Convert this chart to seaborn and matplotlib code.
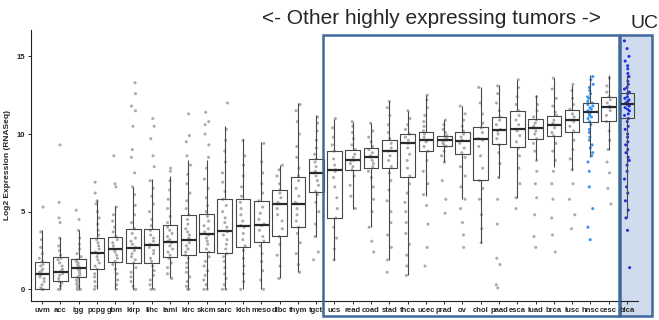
import numpy as np
import pandas as pd
import seaborn as sns
import matplotlib.pyplot as plt
from matplotlib.patches import Rectangle

# tumour types, ordered by median expression
cancers = ["uvm", "acc", "lgg", "pcpg", "gbm", "kirp", "lihc", "laml", "kirc", "skcm",
           "sarc", "kich", "meso", "dlbc", "thym", "tgct", "ucs", "read", "coad", "stad",
           "thca", "ucec", "prad", "ov", "chol", "paad", "esca", "luad", "brca", "lusc",
           "hnsc", "cesc", "blca"]

# box stats (whisker low, q1, median, q3, whisker high)
whisk_lo = [0, 0, 0, 0, 0, 0, 0, 0.7, 0, 0, 0, 0, 0, 0.7, 1.1, 3.4, 1.9, 5.2, 4.0, 1.9,
            0.9, 6.0, 8.2, 5.8, 3.0, 7.2, 5.9, 8.3, 7.9, 7.7, 8.5, 9.0, 4.6]
q1 = [0, 0.53, 0.79, 1.29, 1.74, 1.67, 1.69, 2.1, 2.23, 2.42, 2.32, 2.75, 3.07, 3.41, 3.99, 6.27,
      4.57, 7.66, 7.79, 7.81, 7.21, 8.89, 9.2, 8.73, 7.02, 9.34, 9.14, 9.7, 9.89, 10.15,
      10.75, 10.84, 11.05]
median = [0.98, 1.13, 1.35, 2.36, 2.57, 2.68, 2.87, 3.07, 3.2, 3.54, 3.73, 4.1, 4.16, 5.49, 5.49, 7.49,
          7.68, 8.3, 8.5, 8.9, 9.4, 9.6, 9.59, 9.57, 9.66, 10.24, 10.32, 10.4, 10.58, 10.88,
          11.42, 11.74, 11.95]
q3 = [1.74, 2.06, 1.95, 3.28, 3.35, 3.88, 3.86, 4.16, 4.76, 4.83, 5.8, 5.8, 5.7, 6.41, 7.23, 8.39,
      8.9, 8.97, 9.1, 9.59, 10.0, 10.15, 9.89, 10.15, 10.43, 11.1, 11.46, 10.95, 11.18, 11.55,
      12.0, 12.36, 12.66]
whisk_hi = [3.8, 3.4, 3.8, 5.75, 5.36, 6.6, 7.1, 7.3, 8.3, 8.3, 10.5, 9.7, 9.5, 8.0, 12.0, 11.2,
            11.0, 10.8, 10.7, 12.1, 11.5, 12.5, 10.9, 11.8, 13.05, 13.15, 13.5, 12.5, 13.6, 13.15,
            13.8, 13.8, 13.8]

# individual samples (approximate, read from the dot streaks)
points = {
    "uvm": [0, 0, 0.1, 0.3, 0.5, 0.7, 0.8, 0.9, 1.0, 1.0, 1.1, 1.2, 1.3, 1.5, 1.6, 1.8, 2.0, 2.3, 2.7, 3.2, 3.7, 5.3],
    "acc": [0, 0, 0.2, 0.4, 0.5, 0.7, 0.9, 1.0, 1.1, 1.2, 1.3, 1.5, 1.7, 1.9, 2.0, 2.2, 2.5, 2.8, 3.3, 4.3, 4.6, 5.6, 9.3],
    "lgg": [0, 0, 0, 0.1, 0.2, 0.3, 0.4, 0.5, 0.6, 0.7, 0.8, 0.9, 1.0, 1.1, 1.2, 1.3, 1.3, 1.4, 1.5, 1.6, 1.7, 1.8,
            1.9, 2.1, 2.3, 2.6, 2.9, 3.3, 3.8, 4.5, 5.1],
    "pcpg": [0, 0.2, 0.5, 0.8, 1.0, 1.3, 1.5, 1.7, 1.9, 2.1, 2.3, 2.4, 2.6, 2.8, 3.0, 3.2, 3.5, 3.8, 4.2, 4.6, 5.0,
             5.5, 5.7, 6.2, 6.9],
    "gbm": [0, 0.3, 0.6, 1.0, 1.3, 1.6, 1.8, 2.0, 2.2, 2.4, 2.5, 2.6, 2.8, 3.0, 3.2, 3.4, 3.7, 4.0, 4.4, 4.8, 5.3,
            6.6, 6.8, 8.6],
    "kirp": [0, 0, 0.2, 0.5, 0.8, 1.1, 1.4, 1.7, 1.9, 2.1, 2.3, 2.5, 2.7, 2.9, 3.1, 3.3, 3.6, 3.9, 4.3, 4.8, 5.4,
             6.1, 6.6, 7.5, 8.5, 9.0, 10.5, 11.5, 11.8, 12.6, 13.3],
    "lihc": [0, 0, 0.3, 0.6, 0.9, 1.2, 1.5, 1.8, 2.0, 2.3, 2.5, 2.7, 2.9, 3.1, 3.3, 3.5, 3.8, 4.1, 4.5, 5.0, 5.5,
             6.0, 6.5, 7.0, 7.9, 8.6, 9.7, 10.5, 11.0],
    "laml": [0.7, 1.0, 1.4, 1.7, 2.0, 2.2, 2.4, 2.6, 2.8, 3.0, 3.1, 3.2, 3.4, 3.6, 3.8, 4.0, 4.3, 4.7, 5.2, 5.8,
             6.4, 7.0, 7.6, 7.8],
    "kirc": [0, 0, 0.2, 0.5, 0.8, 1.1, 1.4, 1.7, 2.0, 2.2, 2.4, 2.6, 2.8, 3.0, 3.2, 3.3, 3.5, 3.7, 3.9, 4.2, 4.5,
             4.8, 5.2, 5.7, 6.2, 6.8, 7.4, 8.0, 8.6, 9.5, 9.9, 11.3],
    "skcm": [0, 0, 0.3, 0.6, 0.9, 1.2, 1.5, 1.8, 2.1, 2.4, 2.6, 2.9, 3.1, 3.3, 3.5, 3.7, 3.9, 4.1, 4.4, 4.7, 5.0,
             5.4, 5.9, 6.5, 7.1, 7.8, 8.5, 9.3, 10.0, 10.6, 10.8, 11.4],
    "sarc": [0, 0, 0.3, 0.7, 1.0, 1.4, 1.8, 2.1, 2.3, 2.6, 2.9, 3.2, 3.5, 3.7, 4.0, 4.3, 4.6, 5.0, 5.4, 5.8, 6.3,
             6.9, 7.5, 8.2, 8.9, 9.6, 10.3, 12.0],
    "kich": [0, 0.5, 1.0, 1.5, 2.0, 2.5, 2.8, 3.2, 3.6, 4.0, 4.1, 4.4, 4.8, 5.2, 5.6, 6.0, 6.6, 7.3, 8.0, 8.6, 9.6],
    "meso": [0, 0.6, 1.2, 1.8, 2.3, 2.8, 3.1, 3.4, 3.8, 4.1, 4.2, 4.5, 4.9, 5.3, 5.7, 6.2, 6.8, 7.5, 8.2, 9.4],
    "dlbc": [0.7, 1.5, 2.2, 2.9, 3.4, 3.9, 4.4, 4.8, 5.2, 5.5, 5.6, 5.9, 6.2, 6.4, 6.8, 7.3, 7.7, 8.0],
    "thym": [1.1, 1.6, 2.3, 3.0, 3.6, 4.0, 4.4, 4.8, 5.2, 5.5, 5.6, 6.0, 6.5, 7.0, 7.3, 7.8, 8.5, 9.2, 10.0, 10.8,
             11.5, 11.9],
    "tgct": [1.9, 2.4, 3.4, 4.2, 5.0, 5.6, 6.1, 6.3, 6.7, 7.0, 7.3, 7.5, 7.6, 7.9, 8.2, 8.4, 8.7, 9.1, 9.6, 10.2,
             10.7, 11.1],
    "ucs": [1.9, 2.6, 3.3, 4.0, 4.6, 5.2, 5.9, 6.6, 7.2, 7.6, 7.7, 8.0, 8.4, 8.9, 9.3, 9.8, 10.4, 11.0],
    "read": [5.2, 6.0, 6.7, 7.3, 7.7, 7.9, 8.1, 8.3, 8.3, 8.5, 8.7, 9.0, 9.3, 9.7, 10.1, 10.5, 10.8],
    "coad": [2.4, 3.1, 4.0, 5.0, 5.8, 6.6, 7.2, 7.6, 7.9, 8.1, 8.3, 8.5, 8.6, 8.8, 9.0, 9.2, 9.5, 9.8, 10.2, 10.7],
    "stad": [1.1, 1.9, 2.7, 3.5, 4.3, 5.0, 5.7, 6.4, 7.0, 7.5, 7.9, 8.3, 8.6, 8.9, 9.1, 9.4, 9.7, 10.1, 10.6,
             11.2, 11.7, 12.1],
    "thca": [0.9, 1.5, 2.2, 2.9, 3.6, 4.3, 5.0, 5.6, 6.2, 6.8, 7.3, 7.8, 8.3, 8.7, 9.1, 9.4, 9.6, 9.8, 10.0, 10.3,
             10.6, 11.0, 11.5],
    "ucec": [1.5, 2.7, 4.2, 5.4, 6.1, 6.8, 7.6, 8.3, 8.9, 9.2, 9.5, 9.6, 9.8, 10.0, 10.2, 10.5, 10.8, 11.2, 11.7,
             12.2, 12.5],
    "prad": [4.9, 5.8, 7.0, 8.2, 8.6, 8.9, 9.2, 9.3, 9.4, 9.5, 9.6, 9.6, 9.7, 9.8, 9.9, 10.1, 10.3, 10.6, 10.9],
    "ov": [2.7, 3.5, 4.3, 5.2, 5.8, 6.6, 7.3, 7.9, 8.5, 8.8, 9.1, 9.4, 9.6, 9.8, 10.0, 10.2, 10.5, 10.9, 11.3, 11.8],
    "chol": [3.0, 3.9, 4.8, 5.8, 6.5, 7.0, 7.8, 8.6, 9.2, 9.6, 9.7, 10.1, 10.4, 10.7, 11.3, 12.0, 13.0],
    "paad": [0.1, 0.3, 1.6, 2.0, 4.2, 5.8, 7.2, 8.1, 8.8, 9.3, 9.7, 10.0, 10.2, 10.3, 10.6, 10.9, 11.1, 11.5, 12.0,
             12.6, 13.1],
    "esca": [5.2, 5.9, 6.8, 7.8, 8.6, 9.1, 9.5, 9.9, 10.2, 10.3, 10.6, 10.9, 11.2, 11.5, 11.9, 12.4, 13.0, 13.5],
    "luad": [2.7, 3.4, 4.8, 5.9, 6.8, 7.6, 8.3, 8.9, 9.4, 9.7, 10.0, 10.2, 10.4, 10.5, 10.7, 10.9, 11.1, 11.5,
             11.9, 12.4],
    "brca": [2.4, 3.5, 4.6, 5.8, 6.8, 7.6, 8.3, 8.9, 9.4, 9.9, 10.1, 10.4, 10.6, 10.7, 10.9, 11.2, 11.4, 11.8,
             12.3, 12.9, 13.6],
    "lusc": [3.9, 4.8, 5.8, 6.8, 7.7, 8.4, 9.0, 9.6, 10.2, 10.5, 10.8, 10.9, 11.1, 11.3, 11.6, 11.9, 12.3, 12.8, 13.2],
    "hnsc": [3.2, 4.0, 5.2, 6.6, 7.6, 8.2, 8.6, 8.8, 9.1, 9.3, 9.6, 9.8, 10.1, 10.3, 10.6, 10.8, 11.0, 11.1, 11.2,
             11.3, 11.4, 11.5, 11.6, 11.7, 11.8, 11.9, 12.0, 12.1, 12.3, 12.4, 12.6, 12.8, 13.0, 13.2, 13.5, 13.7],
    "cesc": [5.5, 6.5, 7.5, 8.2, 9.0, 9.6, 10.2, 10.8, 11.2, 11.5, 11.7, 11.8, 12.0, 12.2, 12.4, 12.7, 13.1, 13.6],
    "blca": [1.4, 3.8, 4.6, 5.1, 5.7, 6.2, 6.6, 7.1, 7.6, 8.0, 8.3, 8.5, 8.8, 9.0, 9.3, 9.5, 9.8, 10.0, 10.3,
             10.5, 10.8, 11.0, 11.2, 11.3, 11.5, 11.6, 11.7, 11.8, 11.9, 12.0, 12.1, 12.2, 12.3, 12.4, 12.6,
             12.7, 12.9, 13.0, 13.2, 13.4, 13.7, 13.9, 14.2, 14.4, 14.7, 15.0, 15.5, 16.0],
}

box_df = pd.DataFrame({
    "cancer": np.repeat(cancers, 5),
    "expr": np.column_stack([whisk_lo, q1, median, q3, whisk_hi]).ravel(),
})
pts_df = pd.DataFrame(
    [(c, v) for c in cancers for v in points[c]], columns=["cancer", "expr"]
)

pal = {c: "#ababab" for c in cancers}
pal["hnsc"] = "#3a96f5"
pal["blca"] = "#1f2fe0"

sns.set_style("ticks")
plt.rcParams["font.family"] = ["Liberation Sans", "DejaVu Sans"]
np.random.seed(3)

fig = plt.figure(figsize=(6.59, 3.2), dpi=100)
ax = fig.add_axes([31 / 659, 1 - 301 / 320, 607 / 659, 271 / 320])
ax.set_facecolor("none")

sns.stripplot(data=pts_df, x="cancer", y="expr", order=cancers, hue="cancer", palette=pal,
              jitter=0.15, size=2.2, linewidth=0, legend=False, ax=ax, zorder=1)
sns.boxplot(data=box_df, x="cancer", y="expr", order=cancers, whis=(0, 100), width=0.8,
            fill=False, color="#484848", linewidth=0.8, showcaps=False,
            medianprops={"color": "#2a2a2a", "linewidth": 1.6}, ax=ax)

ax.set_xlim(-0.6, 32.6)
ax.set_ylim(-0.75, 16.7)
ax.set_yticks([0, 5, 10, 15])
ax.set_xlabel("")
ax.set_ylabel("Log2 Expression (RNASeq)", fontsize=6, fontweight="bold", labelpad=4)
ax.tick_params(axis="both", labelsize=5.5, length=2.5, width=0.7, pad=1.5)
for lab in ax.get_xticklabels() + ax.get_yticklabels():
    lab.set_fontweight("bold")
sns.despine(ax=ax)
for s in ("left", "bottom"):
    ax.spines[s].set_linewidth(0.8)
    ax.spines[s].set_color("#222222")

# highlight boxes
edge = "#41689c"
ax.add_patch(Rectangle((31.62, -1.72), 1.75, 18.09, facecolor="#cfdcee", edgecolor=edge,
                       lw=1.8, clip_on=False, zorder=0.5))
ax.add_patch(Rectangle((15.37, -1.72), 16.19, 18.09, fill=False, edgecolor=edge,
                       lw=1.8, clip_on=False, zorder=5))

fig.text(431 / 659, 1 - 19 / 320, "<- Other highly expressing tumors ->", ha="center",
         va="center", fontsize=15)
fig.text(630 / 659, 1 - 23 / 320, "UC", ha="left", va="center", fontsize=14)

fig.savefig("out.png", dpi=100)
